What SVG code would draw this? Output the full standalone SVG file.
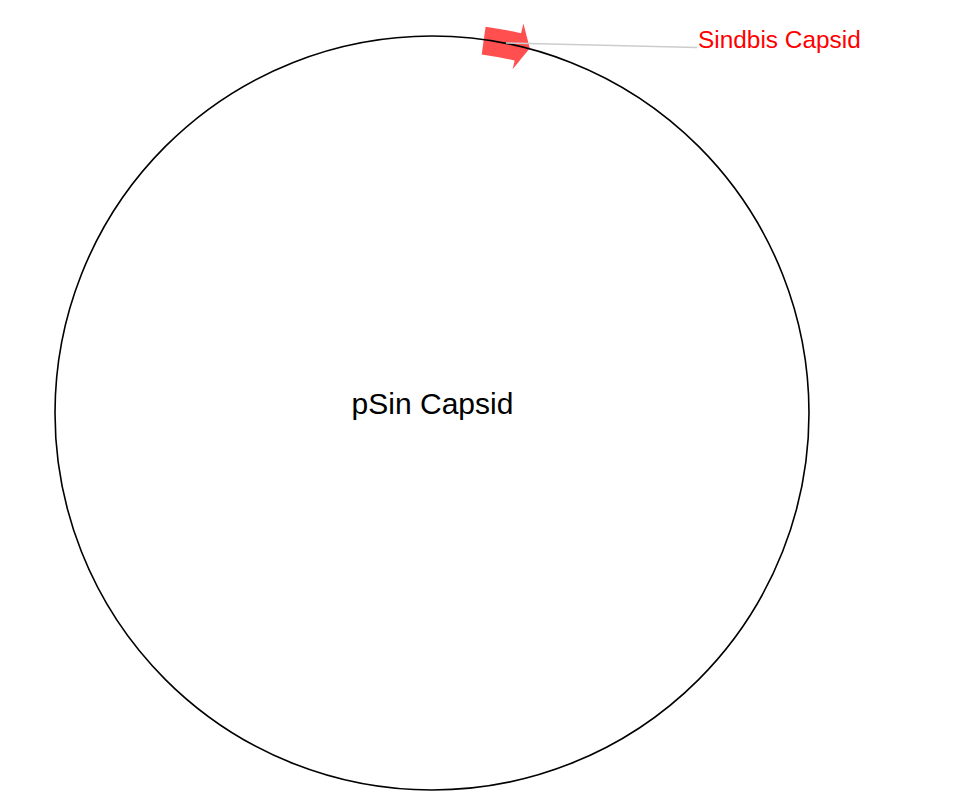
<svg xmlns="http://www.w3.org/2000/svg" width="953" height="812" viewBox="0 0 953 812">
  <style>
    .label { font-family: "Liberation Sans", Arial, sans-serif; }
    .backbone { fill: none; stroke: #000; stroke-width: 1.6; }
    .feature { fill: #ff4f4f; }
    .leader { stroke: #cccccc; stroke-width: 1.5; fill: none; }
  </style>
  <rect width="953" height="812" fill="#ffffff"/>
  <g id="feature-sindbis-capsid">
    <path class="feature" d="M485.6,26.7 A390,390 0 0 1 521.1,33.3 L523.4,23.6 L529.8,48.3 L512.6,69.3 L514.7,60.6 A362,362 0 0 0 481.7,54.4 Z"/>
  </g>
  <g id="plasmid-backbone">
    <circle class="backbone" cx="432" cy="413" r="377"/>
    <text class="label" x="432.5" y="414" font-size="30" text-anchor="middle" fill="#000">pSin Capsid</text>
  </g>
  <g id="connectors">
    <line class="leader" x1="506" y1="43" x2="697" y2="47.5"/>
  </g>
  <g id="label-sindbis-capsid">
    <text class="label" x="698" y="47.5" font-size="24.4" fill="#ff0000">Sindbis Capsid</text>
  </g>
</svg>
